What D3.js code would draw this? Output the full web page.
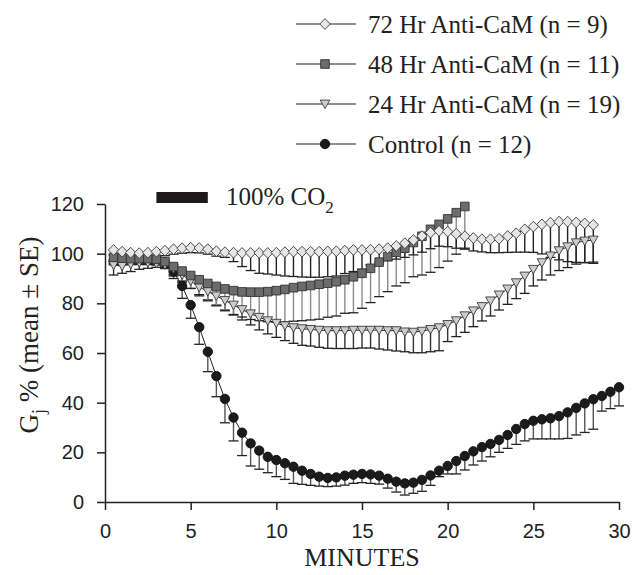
<!DOCTYPE html>
<html>
<head>
<meta charset="utf-8">
<script src="https://cdn.jsdelivr.net/npm/d3@7/dist/d3.min.js"></script>
<style>
  html, body { margin: 0; padding: 0; background: #fff; }
  svg { display: block; }
</style>
</head>
<body>
<svg id="chart" width="644" height="575"></svg>
<script>
// ---------- DATA ----------
const minutes = [0.5,1,1.5,2,2.5,3,3.5,4,4.5,5,5.5,6,6.5,7,7.5,8,8.5,9,9.5,10,
  10.5,11,11.5,12,12.5,13,13.5,14,14.5,15,15.5,16,16.5,17,17.5,18,18.5,19,19.5,20,
  20.5,21,21.5,22,22.5,23,23.5,24,24.5,25,25.5,26,26.5,27,27.5,28,28.5,29,29.5,30];

const xTicks = [0, 5, 10, 15, 20, 25, 30];
const yTicks = [0, 20, 40, 60, 80, 100, 120];

const seriesNames = ["72 Hr Anti-CaM (n = 9)", "48 Hr Anti-CaM (n = 11)", "24 Hr Anti-CaM (n = 19)", "Control (n = 12)"];

const control_mean = [97,97.3,97.5,97.5,97.5,97.3,96.5,92.8,87,79.3,70.4,60.5,50.7,41.5,34,27.9,23.6,20.7,18.2,16.9,
  15.6,14.2,12.6,11.3,10.2,9.7,9.9,10.6,11.0,11.3,11.1,10.6,9.4,8.2,7.5,7.8,8.9,10.7,12.6,14.5,
  16.5,18.5,20.4,22.1,23.4,25,27,29.4,31.4,32.7,33.3,33.7,34.6,36.1,37.9,39.7,41.4,42.7,44.4,46.2];
const control_low = [95.5,95.8,96,96,96,95.8,95,90,82,74,63.5,52.5,42.4,31.9,24.6,18.7,14.5,13.2,11.8,10.2,
  9.1,7.5,7.1,6.7,6.4,6.2,6.4,6.8,7.5,7.8,7.5,7.2,5.6,4.0,2.8,3.5,4.3,6.7,10.2,11.3,
  11.3,12.9,14.9,16.5,18.2,20,21.6,23.2,24.6,25.4,25.4,25.4,25.4,25.6,27,28,29.3,36.6,37.6,38.7];

const h72_mean = [101.5,100.8,100.4,100.2,100.4,100.8,101.2,101.8,102.2,102.4,102.3,101.8,101,100.6,100.4,100.3,100.3,100.3,100.3,100.4,
  100.6,100.8,100.8,100.8,100.8,100.9,101,101.2,101.5,101.5,101.6,101.8,102.2,103.1,104.2,105.5,107.1,108.5,109.2,108.9,
  108,107,106.3,105.8,105.8,106,107.1,108.2,109.8,110.9,111.8,112.5,112.9,112.9,112.6,112.2,111.6];
const h72_low = [99.5,98.8,98.4,98.2,98.4,98.8,99.2,99.8,100.2,100.4,100.3,99.8,99,98.5,96.8,94.8,93.2,92.1,91.8,91.4,
  91,90.8,90.6,90.5,90.5,90.7,91,92,92.8,93.7,95.5,96.5,97.2,97.8,98.5,99.5,100.6,102,103,102.8,
  102.2,101.8,101.1,100.7,100.4,100.4,100.5,100.6,100.6,100.5,99.9,98.5,97.5,96.8,96.5,96.4,96.6];

const h48_mean = [98.5,98.2,98,98,98,97.8,96.8,94.8,93,91.2,89.5,88,86.8,85.8,85.1,84.6,84.5,84.5,84.7,85.1,
  85.6,86.3,86.8,87.2,87.7,88.1,88.7,89.5,90.7,92.1,94.1,96.6,98.8,100.6,102.2,104.5,107,109.8,111.8,114,
  116.5,119];
const h48_low = [96,95.8,95.6,95.6,95.6,95.4,94,91,88.5,86,83.5,81,79,77,75.5,74.5,73.5,73,72.6,72.5,
  72.5,72.8,73,73.3,73.6,74.4,74.9,76,76.2,78,80.3,82.7,84.7,87,88.3,90.7,91.4,92.5,94.4,97,
  99.8,102.2];

const h24_mean = [95.4,95,95.8,96.4,96.4,96.1,95.5,94,91.5,89,86.5,84.8,83,81.2,79.3,77.5,75.8,74.4,73,72,
  71,70.2,69.8,69.5,69.2,69,69,69,69.2,69.2,69.2,69.2,69,69,68.5,68.4,68.8,69.5,70.2,71.5,
  73,75,77,78.7,81,83.4,85.8,88.3,91,93.7,96.4,99.1,101.2,102.8,104.4,105.1,105.5];
const h24_low = [91.4,92.1,92.8,93.7,94.1,94.5,94.5,91.5,89,86,83,81.4,79.3,77.3,75.3,73.3,71.3,69.3,67.7,66.3,
  65,63.9,63.1,62.8,62.3,61.9,61.8,61.8,61.8,62,62,61.6,61.2,60.8,60.5,60.1,60.1,60.5,60.9,64.6,
  66.6,68.3,70.6,72.9,74.9,77.3,79.6,81.9,84,87,89.4,91.4,93.2,94.4,95.8,96.4,96.1];

const co2Period = [3, 6];

// ---------- CHART ----------
const svg = d3.select("#chart");
const x = d3.scaleLinear().domain([0, 30]).range([105, 619]);
const y = d3.scaleLinear().domain([0, 120]).range([502, 204]);

const serif = "'Liberation Serif', 'Times New Roman', serif";
const sans = "'Liberation Sans', Arial, sans-serif";

function build(mean, low) {
  return mean.map((m, i) => ({ t: minutes[i], m: m, lo: low[i] }));
}

const markerPaths = {
  diamond: "M0,-5.4L5.2,0L0,5.4L-5.2,0Z",
  square: "M-4.3,-4.3H4.3V4.3H-4.3Z",
  triangle: "M-4.8,-3.9L4.8,-3.9L0,4.6Z",
  circle: d3.symbol().type(d3.symbolCircle).size(Math.PI * 4.7 * 4.7)()
};

const series = [
  { name: seriesNames[3], data: build(control_mean, control_low), shape: "circle", fill: "#1c1a1b", stroke: "#111", bar: "#555" },
  { name: seriesNames[2], data: build(h24_mean, h24_low), shape: "triangle", fill: "#cdcdcd", stroke: "#3a3a3a", bar: "#333" },
  { name: seriesNames[1], data: build(h48_mean, h48_low), shape: "square", fill: "#6c6c6c", stroke: "#333", bar: "#8a8a8a" },
  { name: seriesNames[0], data: build(h72_mean, h72_low), shape: "diamond", fill: "#e6e6e6", stroke: "#3a3a3a", bar: "#222" }
];

// error bars
const capW = 5;
series.forEach(s => {
  const g = svg.append("g");
  g.selectAll("line.v").data(s.data).join("line")
    .attr("x1", d => x(d.t)).attr("x2", d => x(d.t))
    .attr("y1", d => y(d.m)).attr("y2", d => y(d.lo))
    .attr("stroke", s.bar).attr("stroke-width", 1.4);
  g.selectAll("line.c").data(s.data).join("line")
    .attr("x1", d => x(d.t) - capW).attr("x2", d => x(d.t) + capW)
    .attr("y1", d => y(d.lo)).attr("y2", d => y(d.lo))
    .attr("stroke", "#222").attr("stroke-width", 1.3);
});

// lines + markers
const line = d3.line().x(d => x(d.t)).y(d => y(d.m));
series.forEach(s => {
  svg.append("path").datum(s.data).attr("d", line)
    .attr("fill", "none").attr("stroke", "#222").attr("stroke-width", 1);
  svg.append("g").selectAll("path").data(s.data).join("path")
    .attr("d", markerPaths[s.shape])
    .attr("transform", d => `translate(${x(d.t)},${y(d.m)})`)
    .attr("fill", s.fill).attr("stroke", s.stroke).attr("stroke-width", 0.9);
});

// axes
const xAxis = svg.append("g").attr("transform", "translate(0,502)")
  .call(d3.axisBottom(x).tickValues(xTicks).tickSize(8).tickSizeOuter(0).tickPadding(14));
const yAxis = svg.append("g").attr("transform", "translate(105,0)")
  .call(d3.axisLeft(y).tickValues(yTicks).tickSize(8).tickSizeOuter(0).tickPadding(13));
[xAxis, yAxis].forEach(a => {
  a.select(".domain").attr("stroke", "#222").attr("stroke-width", 1.5);
  a.selectAll(".tick line").attr("stroke", "#222").attr("stroke-width", 1.5);
  a.selectAll(".tick text").attr("font-family", sans).attr("font-size", 20).attr("fill", "#222");
});

// axis titles
svg.append("text").attr("x", 362).attr("y", 566).attr("text-anchor", "middle")
  .attr("font-family", serif).attr("font-size", 26).attr("fill", "#222").text("MINUTES");

const yl = svg.append("text")
  .attr("transform", "translate(38,335) rotate(-90)")
  .attr("text-anchor", "middle").attr("font-family", serif).attr("font-size", 27).attr("fill", "#222");
yl.append("tspan").text("G");
yl.append("tspan").attr("font-size", 18).attr("dy", 7).text("j");
yl.append("tspan").attr("dy", -7).text(" % (mean ± SE)");

// CO2 bar
svg.append("rect")
  .attr("x", x(co2Period[0])).attr("width", x(co2Period[1]) - x(co2Period[0]))
  .attr("y", 192).attr("height", 11).attr("fill", "#1c1a1b");
const co2 = svg.append("text").attr("x", 226).attr("y", 205)
  .attr("font-family", serif).attr("font-size", 25).attr("fill", "#222");
co2.append("tspan").text("100% CO");
co2.append("tspan").attr("font-size", 17).attr("dy", 8).text("2");

// legend
const legendOrder = [series[3], series[2], series[1], series[0]];
legendOrder.forEach((s, i) => {
  const cy = 24 + i * 40;
  const g = svg.append("g");
  g.append("line").attr("x1", 296).attr("x2", 356).attr("y1", cy).attr("y2", cy)
    .attr("stroke", "#222").attr("stroke-width", 1.2);
  g.append("path").attr("d", markerPaths[s.shape]).attr("transform", `translate(325,${cy})`)
    .attr("fill", s.fill).attr("stroke", s.stroke).attr("stroke-width", 0.9);
  g.append("text").attr("x", 368).attr("y", cy + 9)
    .attr("font-family", serif).attr("font-size", 25).attr("fill", "#222").text(s.name);
});
</script>
</body>
</html>
